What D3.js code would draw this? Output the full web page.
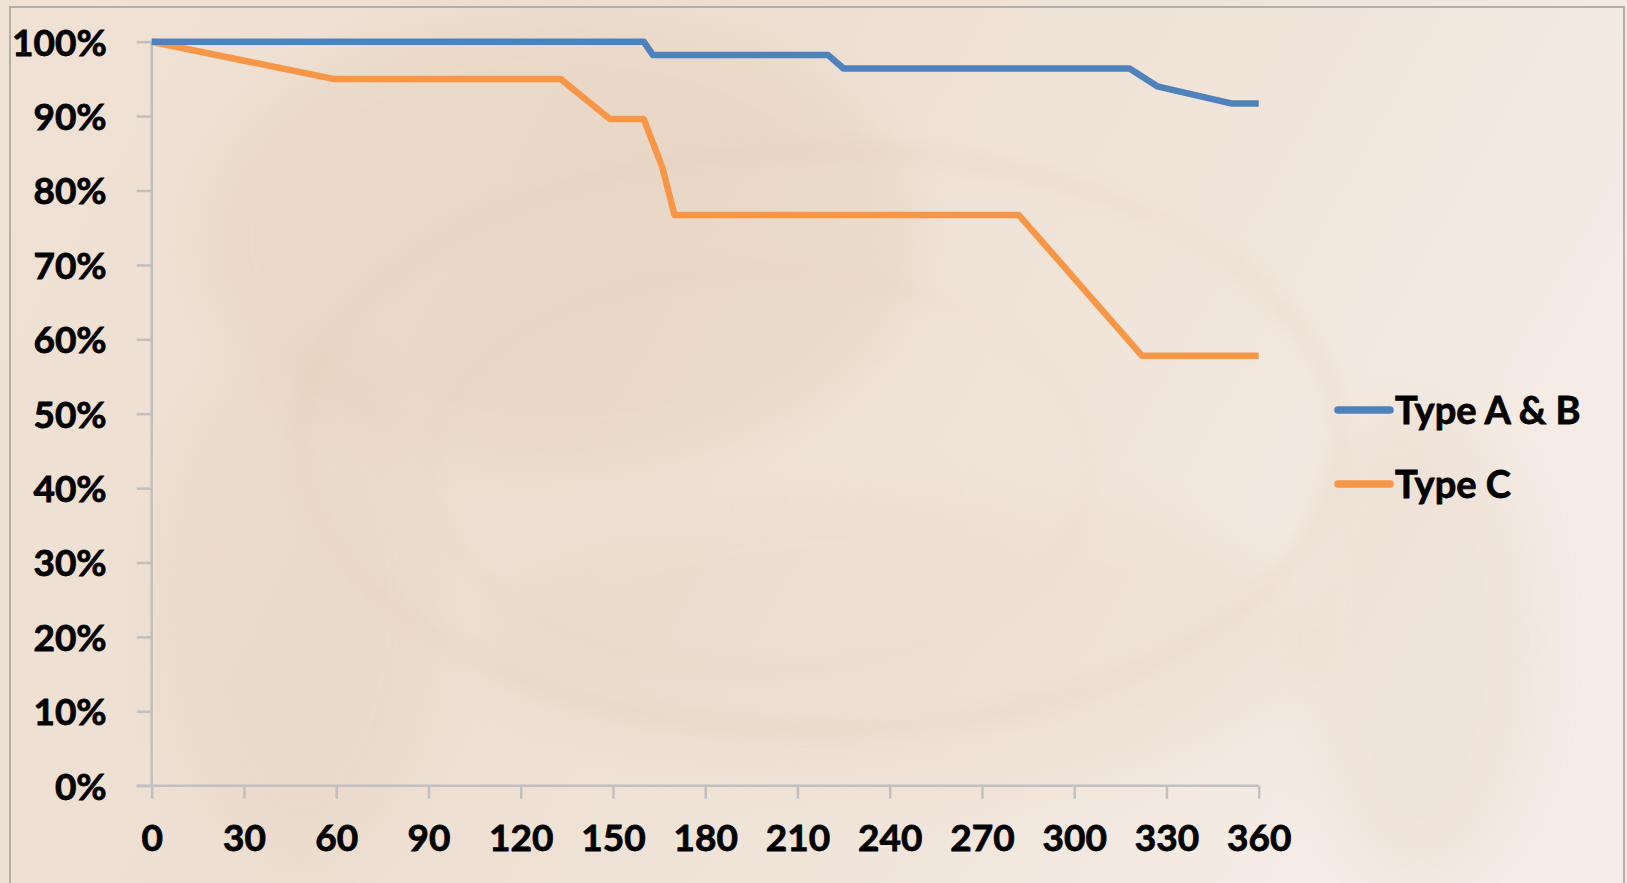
<!DOCTYPE html>
<html>
<head>
<meta charset="utf-8">
<script src="https://cdn.jsdelivr.net/npm/d3@7"></script>
<style>
  html, body { margin: 0; padding: 0; background: #f1e6dc; }
  svg { display: block; }
  text { font-family: Lato, "Open Sans", sans-serif; font-weight: bold; fill: #000; }
</style>
</head>
<body>
<svg id="chart" width="1627" height="883"></svg>
<script>
// Survival over time (days), two groups
const days = [0, 30, 60, 90, 120, 150, 180, 210, 240, 270, 300, 330, 360];
const percentTicks = [0, 10, 20, 30, 40, 50, 60, 70, 80, 90, 100];

const typeABDays   = [0, 160, 163, 220, 225, 318, 327, 351, 360];
const typeABValues = [100, 100, 98.2, 98.2, 96.4, 96.4, 94.0, 91.7, 91.7];

const typeCDays   = [0, 59, 133, 149, 160, 166, 170, 282, 322, 360];
const typeCValues = [100, 95, 95, 89.6, 89.6, 83.2, 76.7, 76.7, 57.8, 57.8];

const seriesNames  = ["Type A & B", "Type C"];
const seriesColors = ["#4f81bd", "#f79646"];

const svg = d3.select("#chart");
const W = 1627, H = 883;

// ---- warm textured backdrop ----
const defs = svg.append("defs");
const bg = defs.append("linearGradient").attr("id", "bgGrad")
  .attr("x1", 0).attr("y1", 0).attr("x2", 1).attr("y2", 0.3);
bg.append("stop").attr("offset", 0).attr("stop-color", "#efe1d4");
bg.append("stop").attr("offset", 0.45).attr("stop-color", "#eddfd1");
bg.append("stop").attr("offset", 0.8).attr("stop-color", "#f1e6dc");
bg.append("stop").attr("offset", 1).attr("stop-color", "#f4ece5");

const soft = defs.append("filter").attr("id", "soft")
  .attr("x", "-30%").attr("y", "-30%").attr("width", "160%").attr("height", "160%");
soft.append("feGaussianBlur").attr("stdDeviation", 22);

const soft2 = defs.append("filter").attr("id", "soft2")
  .attr("x", "-30%").attr("y", "-30%").attr("width", "160%").attr("height", "160%");
soft2.append("feGaussianBlur").attr("stdDeviation", 9);

svg.append("rect").attr("width", W).attr("height", H).attr("fill", "url(#bgGrad)");

const haze = svg.append("g");
haze.append("ellipse").attr("cx", 560).attr("cy", 240).attr("rx", 360).attr("ry", 230)
  .attr("fill", "#e2cbb6").attr("opacity", 0.3).attr("filter", "url(#soft)");
haze.append("ellipse").attr("cx", 300).attr("cy", 600).attr("rx", 140).attr("ry", 260)
  .attr("fill", "#e2cbb6").attr("opacity", 0.22).attr("filter", "url(#soft)");
haze.append("ellipse").attr("cx", 900).attr("cy", 640).attr("rx", 420).attr("ry", 150)
  .attr("fill", "#e4cfbd").attr("opacity", 0.22).attr("filter", "url(#soft)");
haze.append("ellipse").attr("cx", 1420).attr("cy", 640).attr("rx", 120).attr("ry", 240)
  .attr("fill", "#e4cfbd").attr("opacity", 0.25).attr("filter", "url(#soft)");
haze.append("ellipse").attr("cx", 820).attr("cy", 440).attr("rx", 520).attr("ry", 290)
  .attr("fill", "none").attr("stroke", "#d9bea6").attr("stroke-width", 14)
  .attr("opacity", 0.16).attr("filter", "url(#soft2)");
haze.append("ellipse").attr("cx", 760).attr("cy", 470).attr("rx", 330).attr("ry", 200)
  .attr("fill", "none").attr("stroke", "#d9bea6").attr("stroke-width", 10)
  .attr("opacity", 0.12).attr("filter", "url(#soft2)");

// chart frame
svg.append("rect").attr("x", 10).attr("y", 7).attr("width", 1614).attr("height", 900)
  .attr("fill", "none").attr("stroke", "#b2aeaa").attr("stroke-width", 2);

// ---- scales ----
const x = d3.scaleLinear().domain([0, 360]).range([151.7, 1258.7]);
const y = d3.scaleLinear().domain([0, 100]).range([785.7, 41.7]);

const axisColor = "#c0c0c0";
const labelSize = 37;

function styleLabels(sel) {
  sel.attr("font-size", labelSize).attr("font-family", "Lato")
    .attr("font-weight", "bold").attr("fill", "#000")
    .attr("stroke", "#000").attr("stroke-width", 0.8);
}

// y axis
const yAxis = svg.append("g").attr("transform", `translate(${x(0)},0)`)
  .call(d3.axisLeft(y).tickValues(percentTicks).tickSize(15).tickPadding(30)
    .tickFormat(d => d + "%"));
yAxis.select(".domain").attr("stroke", axisColor).attr("stroke-width", 2.5)
  .attr("d", `M0,${y(0)}V${y(100)}`);
yAxis.selectAll(".tick line").attr("stroke", axisColor).attr("stroke-width", 2.5);
yAxis.selectAll(".tick text").call(styleLabels).attr("dy", "0.36em");

// x axis
const xAxis = svg.append("g").attr("transform", `translate(0,${y(0)})`)
  .call(d3.axisBottom(x).tickValues(days).tickSize(13).tickPadding(26));
xAxis.select(".domain").attr("stroke", axisColor).attr("stroke-width", 2.5)
  .attr("d", `M${x(0) - 15},0H${x(360)}`);
xAxis.selectAll(".tick line").attr("stroke", axisColor).attr("stroke-width", 2.5);
xAxis.selectAll(".tick text").call(styleLabels);

// ---- series lines ----
const line = d3.line().x(d => x(d[0])).y(d => y(d[1]));
const series = [
  { pts: d3.zip(typeCDays, typeCValues), color: seriesColors[1] },
  { pts: d3.zip(typeABDays, typeABValues), color: seriesColors[0] }
];
series.forEach(s => {
  svg.append("path").datum(s.pts)
    .attr("d", line)
    .attr("fill", "none")
    .attr("stroke", s.color)
    .attr("stroke-width", 6.5)
    .attr("stroke-linejoin", "round")
    .attr("stroke-linecap", "butt");
});

// ---- legend ----
const legend = svg.append("g").attr("transform", "translate(1335,410)");
seriesNames.forEach((name, i) => {
  const g = legend.append("g").attr("transform", `translate(0,${i * 74})`);
  g.append("line").attr("x1", 3).attr("x2", 55).attr("y1", 0).attr("y2", 0)
    .attr("stroke", seriesColors[i]).attr("stroke-width", 7.5)
    .attr("stroke-linecap", "round");
  g.append("text").attr("x", 60).attr("y", 14).attr("font-size", 38)
    .attr("stroke", "#000").attr("stroke-width", 0.8).text(name);
});
</script>
</body>
</html>
